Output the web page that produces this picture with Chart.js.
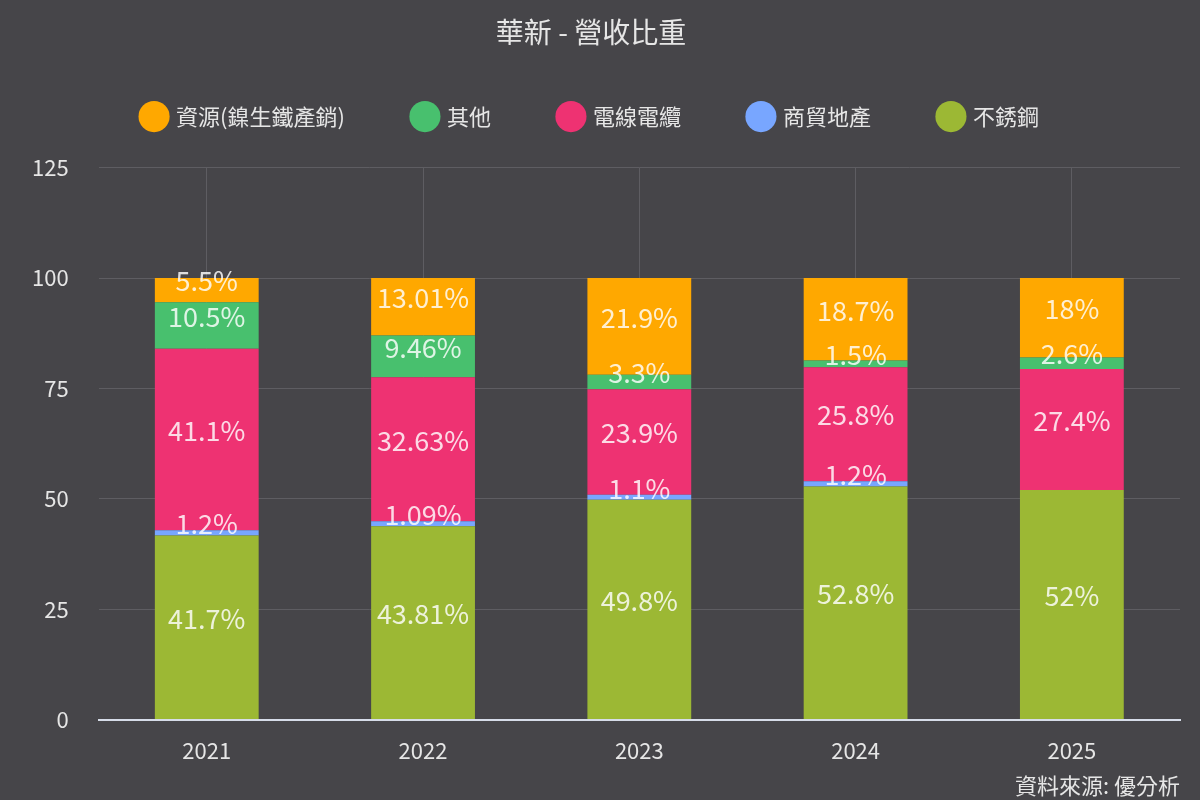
<!DOCTYPE html>
<html><head><meta charset="utf-8">
<script src="https://cdn.jsdelivr.net/npm/chart.js@4"></script>
<style>
html,body{margin:0;padding:0;background:#464549;}
#wrap{width:1200px;height:800px;position:relative;}
</style></head>
<body><div id="wrap"><canvas id="c" width="1200" height="800"></canvas></div>
<script>
const years = ['2021','2022','2023','2024','2025'];
const stainless = [41.7, 43.81, 49.8, 52.8, 52];
const tradeRealty = [1.2, 1.09, 1.1, 1.2, null];
const wireCable = [41.1, 32.63, 23.9, 25.8, 27.4];
const others = [10.5, 9.46, 3.3, 1.5, 2.6];
const resources = [5.5, 13.01, 21.9, 18.7, 18];
const yTicks = [0, 25, 50, 75, 100, 125];

const FONT = '"Noto Sans CJK TC","Noto Sans",sans-serif';

const labelPlugin = {
  id: 'segLabels',
  afterDatasetsDraw(chart) {
    const ctx = chart.ctx;
    ctx.save();
    ctx.font = '27px ' + FONT;
    ctx.textAlign = 'center';
    ctx.textBaseline = 'middle';
    ctx.fillStyle = 'rgba(255,255,255,0.82)';
    chart.data.datasets.forEach((ds, i) => {
      const meta = chart.getDatasetMeta(i);
      if (meta.hidden) return;
      meta.data.forEach((bar, j) => {
        const v = ds.data[j];
        if (v === null || v === undefined) return;
        const p = bar.getProps(['x','y','base'], true);
        const cy = (p.y + p.base) / 2 - 9;
        ctx.fillText(v + '%', p.x, cy);
      });
    });
    ctx.restore();
  }
};

const legendSpace = {
  id: 'legendSpace',
  afterInit(chart) {
    const lg = chart.legend;
    if (!lg) return;
    const orig = lg.fit;
    lg.fit = function() { orig.call(this); this.height += 30; };
  }
};

const sourcePlugin = {
  id: 'source',
  afterDraw(chart) {
    const ctx = chart.ctx;
    ctx.save();
    ctx.font = '22px ' + FONT;
    ctx.fillStyle = '#e6e6e6';
    ctx.textAlign = 'right';
    ctx.textBaseline = 'middle';
    ctx.fillText('資料來源: 優分析', 1180, 786);
    ctx.restore();
  }
};

const bgPlugin = {
  id: 'bg',
  beforeDraw(chart) {
    const ctx = chart.ctx;
    ctx.save();
    ctx.fillStyle = '#464549';
    ctx.fillRect(0, 0, chart.width, chart.height);
    ctx.restore();
  }
};

new Chart(document.getElementById('c'), {
  type: 'bar',
  data: {
    labels: years,
    datasets: [
      { label: '不銹鋼', data: stainless, backgroundColor: '#9cb834' },
      { label: '商貿地產', data: tradeRealty, backgroundColor: '#78a6ff' },
      { label: '電線電纜', data: wireCable, backgroundColor: '#ee3272' },
      { label: '其他', data: others, backgroundColor: '#48c06e' },
      { label: '資源(鎳生鐵產銷)', data: resources, backgroundColor: '#ffa800' }
    ]
  },
  options: {
    responsive: false,
    animation: false,
    devicePixelRatio: 1,
    barPercentage: 0.6,
    categoryPercentage: 0.8,
    layout: { padding: { left: 2, right: 20, top: 0, bottom: 18 } },
    plugins: {
      title: {
        display: true,
        text: '華新 - 營收比重',
        color: '#e6e6e6',
        font: { size: 28, family: FONT, weight: 'normal' },
        padding: { top: 16, bottom: -13 }
      },
      legend: {
        reverse: true,
        labels: {
          usePointStyle: true,
          pointStyle: 'circle',
          boxWidth: 24,
          boxHeight: 24,
          color: '#e6e6e6',
          font: { size: 22, family: FONT },
          padding: 69
        }
      },
      tooltip: { enabled: false }
    },
    scales: {
      x: {
        stacked: true,
        grid: { offset: false, color: '#5e5d62', lineWidth: 1, drawTicks: false },
        border: { display: true, color: '#d6dce8', width: 2 },
        ticks: { color: '#e6e6e6', font: { size: 22, family: FONT }, padding: 18 }
      },
      y: {
        stacked: true,
        min: 0,
        max: 125,
        afterBuildTicks(scale) { scale.ticks = yTicks.map(v => ({ value: v })); },
        grid: { color: '#5e5d62', lineWidth: 1, drawTicks: false },
        border: { display: false },
        ticks: { color: '#e6e6e6', font: { size: 22, family: FONT }, padding: 30 }
      }
    }
  },
  plugins: [bgPlugin, legendSpace, labelPlugin, sourcePlugin]
});
</script>
</body></html>
